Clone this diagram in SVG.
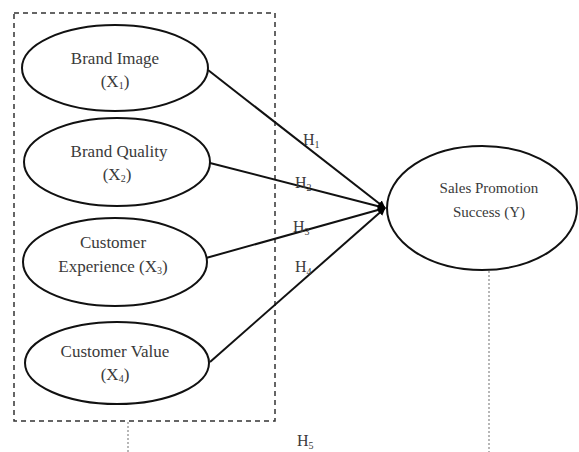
<svg xmlns="http://www.w3.org/2000/svg" width="579" height="452" viewBox="0 0 579 452">
<style>
.node{fill:#fff;stroke:#111;stroke-width:2}
.lbl{font-family:"Liberation Serif","Times New Roman",serif;font-size:17px;fill:#3a3a3a;text-anchor:middle}
.rlbl{font-family:"Liberation Serif","Times New Roman",serif;font-size:15px;fill:#3a3a3a;text-anchor:middle}
.h{font-family:"Liberation Serif","Times New Roman",serif;font-size:16px;fill:#3a3a3a}
.conn{stroke:#111;stroke-width:2;fill:none}
.dot{stroke:#888;stroke-width:1.2;stroke-dasharray:2 2;fill:none}
</style>
<defs>
<marker id="arr" viewBox="0 0 10 10" refX="9" refY="5" markerWidth="4" markerHeight="4" orient="auto" markerUnits="strokeWidth">
<path d="M0,0 L10,5 L0,10 z" fill="#000"/>
</marker>
</defs>
<rect x="14" y="13" width="261" height="408" fill="none" stroke="#333" stroke-width="1.5" stroke-dasharray="5 4"/>
<g id="connectors">
<line class="conn" x1="208" y1="70" x2="385" y2="208" marker-end="url(#arr)"/>
<line class="conn" x1="210" y1="163" x2="385" y2="208" marker-end="url(#arr)"/>
<line class="conn" x1="206" y1="258" x2="385" y2="208" marker-end="url(#arr)"/>
<line class="conn" x1="210" y1="362" x2="385" y2="208" marker-end="url(#arr)"/>
<line class="dot" x1="128" y1="422" x2="128" y2="452"/>
<line class="dot" x1="489" y1="271" x2="489" y2="452"/>
<text class="h" x="303" y="145">H<tspan font-size="10" dy="3">1</tspan></text>
<text class="h" x="295" y="188">H<tspan font-size="10" dy="3">2</tspan></text>
<text class="h" x="293" y="232">H<tspan font-size="10" dy="3">3</tspan></text>
<text class="h" x="295" y="272">H<tspan font-size="10" dy="3">4</tspan></text>
<text class="h" x="297" y="446">H<tspan font-size="10" dy="3">5</tspan></text>
</g>
<g id="x1">
<ellipse class="node" cx="115" cy="68" rx="93" ry="43"/>
<text class="lbl" x="115" y="64">Brand Image</text>
<text class="lbl" x="115" y="87">(X<tspan font-size="10" dy="2">1</tspan><tspan dy="-2">)</tspan></text>
</g>
<g id="x2">
<ellipse class="node" cx="117" cy="162" rx="93" ry="44"/>
<text class="lbl" x="119" y="157">Brand Quality</text>
<text class="lbl" x="117" y="180">(X<tspan font-size="10" dy="2">2</tspan><tspan dy="-2">)</tspan></text>
</g>
<g id="x3">
<ellipse class="node" cx="115" cy="262" rx="92" ry="44"/>
<text class="lbl" x="113" y="248">Customer</text>
<text class="lbl" x="113" y="272">Experience (X<tspan font-size="10" dy="2">3</tspan><tspan dy="-2">)</tspan></text>
</g>
<g id="x4">
<ellipse class="node" cx="117" cy="363" rx="92" ry="41"/>
<text class="lbl" x="115" y="357">Customer Value</text>
<text class="lbl" x="115" y="380">(X<tspan font-size="10" dy="2">4</tspan><tspan dy="-2">)</tspan></text>
</g>
<g id="y">
<ellipse class="node" cx="482" cy="208" rx="95" ry="62"/>
<text class="rlbl" x="489" y="193">Sales Promotion</text>
<text class="rlbl" x="489" y="217">Success (Y)</text>
</g>
</svg>
